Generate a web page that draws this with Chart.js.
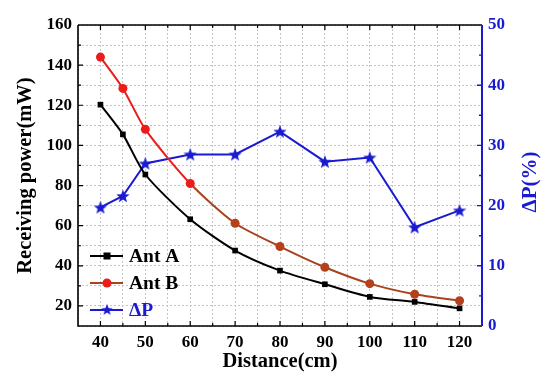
<!DOCTYPE html>
<html><head><meta charset="utf-8">
<script src="https://cdn.jsdelivr.net/npm/chart.js@4/dist/chart.umd.min.js"></script>
<style>html,body{margin:0;padding:0;background:#fff}canvas{display:block}</style>
</head><body><canvas id="c" width="550" height="383"></canvas>
<script>
const distances=[40,45,50,60,70,80,90,100,110,120];
const antA=[120.3,105.5,85.5,63.2,47.6,37.6,30.8,24.5,22.0,18.8];
const antB=[144.0,128.4,108.0,81.0,61.2,49.6,39.3,31.1,25.8,22.6];
const deltaP=[19.7,21.6,27.0,28.5,28.5,32.3,27.3,28.0,16.4,19.2];
const xTickLabels=[40,50,60,70,80,90,100,110,120];
const yLeftTickLabels=[20,40,60,80,100,120,140,160];
const yRightTickLabels=[0,10,20,30,40,50];

const BLUE='#1a1ad2', RED='#ec1c1c', BROWN='#a8431e';
const FONT='"Liberation Serif","Times New Roman",serif';

function starCanvas(size,color){
  const c=document.createElement('canvas');c.width=size;c.height=size;
  const g=c.getContext('2d');const cx=size/2,cy=size/2+0.6,R=size/2,r=R*0.42;
  g.beginPath();
  for(let i=0;i<10;i++){const a=-Math.PI/2+i*Math.PI/5;const rr=i%2?r:R;
    g.lineTo(cx+rr*Math.cos(a),cy+rr*Math.sin(a));}
  g.closePath();g.fillStyle=color;g.fill();return c;
}
const star=starCanvas(14,BLUE);

const pts=(arr)=>distances.map((d,i)=>({x:d,y:arr[i]}));

const frame={
  id:'frame',
  afterDraw(chart){
    const {ctx,chartArea:{left,right,top,bottom},scales:{x,y,y1}}=chart;
    ctx.save();
    ctx.lineWidth=1.6;ctx.strokeStyle='#000';
    ctx.beginPath();
    ctx.moveTo(left,top);ctx.lineTo(left,bottom);ctx.lineTo(right,bottom);
    ctx.moveTo(left,top);ctx.lineTo(right,top);ctx.stroke();
    ctx.lineWidth=1.2;
    ctx.beginPath();
    for(let v=40;v<=120;v+=5){const px=x.getPixelForValue(v);const l=v%10===0?5:3;
      ctx.moveTo(px,bottom);ctx.lineTo(px,bottom-l);ctx.moveTo(px,top);ctx.lineTo(px,top+l);}
    for(let v=20;v<=150;v+=10){const py=y.getPixelForValue(v);const l=v%20===0?5:3;
      ctx.moveTo(left,py);ctx.lineTo(left+l,py);}
    ctx.stroke();
    ctx.strokeStyle=BLUE;ctx.lineWidth=2;
    ctx.beginPath();ctx.moveTo(right,top);ctx.lineTo(right,bottom);ctx.stroke();
    ctx.lineWidth=1.4;ctx.beginPath();
    for(let v=5;v<50;v+=5){const py=y1.getPixelForValue(v);const l=v%10===0?5:3;
      ctx.moveTo(right,py);ctx.lineTo(right-l,py);}
    ctx.stroke();
    // right axis title
    ctx.fillStyle=BLUE;ctx.font='bold 21px '+FONT;ctx.textAlign='center';ctx.textBaseline='middle';
    ctx.translate(531,182);ctx.rotate(-Math.PI/2);
    ctx.fillText(chart.options.plugins.rightTitle.text,0,0);
    ctx.restore();
    // legend
    ctx.save();
    const items=[{y:256,ds:0,line:'#000',text:'#000'},{y:283,ds:1,line:BROWN,text:'#000'},{y:310,ds:2,line:BLUE,text:BLUE}];
    ctx.font='bold 19.5px '+FONT;ctx.textBaseline='middle';ctx.textAlign='left';
    items.forEach(it=>{
      const ds=chart.data.datasets[it.ds];
      ctx.strokeStyle=it.line;ctx.lineWidth=2;
      ctx.beginPath();ctx.moveTo(90,it.y);ctx.lineTo(123,it.y);ctx.stroke();
      const mx=107;
      if(it.ds===0){ctx.fillStyle='#000';ctx.fillRect(mx-3.5,it.y-3.5,7,7);}
      else if(it.ds===1){ctx.fillStyle=RED;ctx.beginPath();ctx.arc(mx,it.y,4.5,0,Math.PI*2);ctx.fill();}
      else {ctx.drawImage(star,mx-6,it.y-6.5,12,12);}
      ctx.fillStyle=it.text;ctx.fillText(ds.label,129,it.y+1);
    });
    ctx.restore();
  }
};

new Chart(document.getElementById('c'),{
  type:'line',
  data:{datasets:[
    {label:'Ant A',data:pts(antA),yAxisID:'y',borderColor:'#000',backgroundColor:'#000',borderWidth:2,
     pointStyle:'rect',pointRadius:4,pointBorderWidth:0,tension:0.25},
    {label:'Ant B',data:pts(antB),yAxisID:'y',borderColor:RED,borderWidth:2,
     segment:{borderColor:c=>c.p0DataIndex>=3?BROWN:RED},
     pointStyle:'circle',pointRadius:4.5,pointBorderWidth:0,
     pointBackgroundColor:distances.map((d,i)=>i<=3?RED:'#b4401c'),tension:0.25},
    {label:'ΔP',data:pts(deltaP),yAxisID:'y1',borderColor:BLUE,backgroundColor:BLUE,borderWidth:2,
     pointStyle:star,pointRadius:7,tension:0}
  ]},
  options:{
    responsive:false,animation:false,
    layout:{padding:{top:25,left:0,right:0,bottom:0}},
    plugins:{legend:{display:false},tooltip:{enabled:false},rightTitle:{text:'ΔP(%)'}},
    scales:{
      x:{type:'linear',min:35,max:125,
        afterBuildTicks:s=>{const t=[];for(let v=35;v<=125;v+=5)t.push({value:v});s.ticks=t;},
        afterFit:s=>{s.height=57;},
        grid:{color:'#c4c4c4',lineWidth:1,drawTicks:false},
        border:{display:false,dash:[2,2]},
        ticks:{autoSkip:false,maxRotation:0,padding:6,color:'#000',font:{family:FONT,size:17,weight:'bold'},
          callback:v=>xTickLabels.includes(v)?String(v):''},
        title:{display:true,text:'Distance(cm)',color:'#000',font:{family:FONT,size:20.5,weight:'bold'},padding:{top:0,bottom:9}}
      },
      y:{type:'linear',position:'left',min:10,max:160,
        afterBuildTicks:s=>{const t=[];for(let v=10;v<=160;v+=10)t.push({value:v});s.ticks=t;},
        afterFit:s=>{s.width=78;},
        grid:{color:'#c4c4c4',lineWidth:1,drawTicks:false},
        border:{display:false,dash:[2,2]},
        ticks:{autoSkip:false,padding:6,color:'#000',font:{family:FONT,size:17,weight:'bold'},
          callback:v=>yLeftTickLabels.includes(v)?String(v):''},
        title:{display:true,text:'Receiving power(mW)',color:'#000',font:{family:FONT,size:20.5,weight:'bold'},padding:{top:13,bottom:0}}
      },
      y1:{type:'linear',position:'right',min:0,max:50,
        afterBuildTicks:s=>{s.ticks=yRightTickLabels.map(v=>({value:v}));},
        afterFit:s=>{s.width=68;},
        grid:{display:false,drawTicks:false},
        border:{display:false},
        ticks:{autoSkip:false,padding:6,color:BLUE,font:{family:FONT,size:17,weight:'bold'}}
      }
    }
  },
  plugins:[frame]
});
</script>
</body></html>
